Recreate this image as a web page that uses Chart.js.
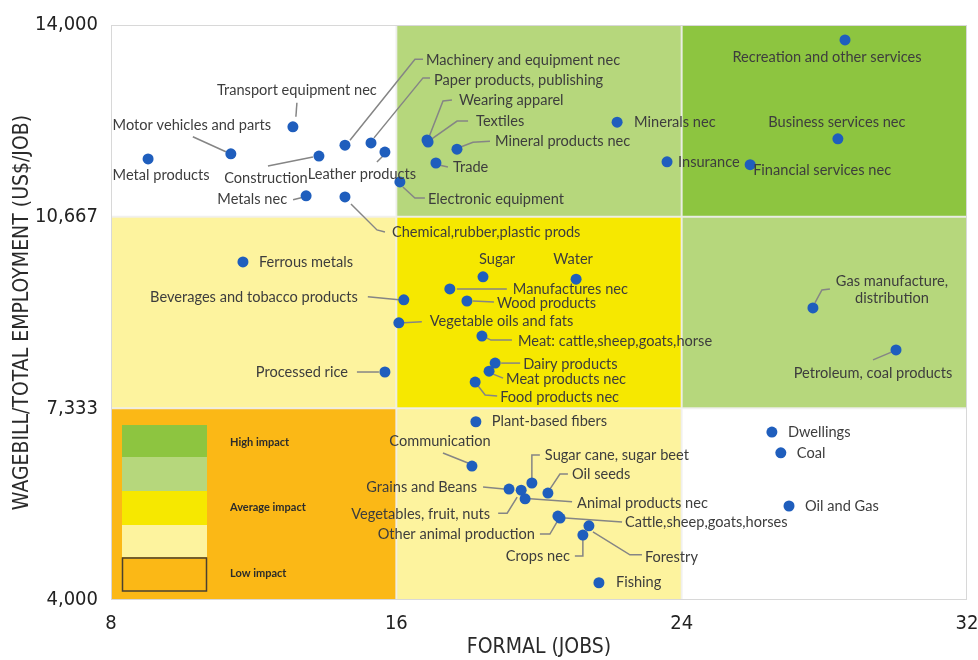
<!DOCTYPE html>
<html>
<head>
<meta charset="utf-8">
<script src="https://cdn.jsdelivr.net/npm/chart.js@4.4.1/dist/chart.umd.min.js"></script>
<style>
  html, body { margin: 0; padding: 0; background: #fff; }
</style>
</head>
<body>
<canvas id="impactChart" width="978" height="660"></canvas>
<script>
// sectors and their values
const sectors = [
  'Recreation and other services', 'Business services nec', 'Financial services nec', 'Insurance',
  'Minerals nec', 'Transport equipment nec', 'Motor vehicles and parts', 'Metal products',
  'Construction', 'Machinery and equipment nec', 'Paper products, publishing', 'Leather products',
  'Metals nec', 'Chemical,rubber,plastic prods', 'Electronic equipment', 'Wearing apparel',
  'Textiles', 'Mineral products nec', 'Trade', 'Ferrous metals',
  'Beverages and tobacco products', 'Vegetable oils and fats', 'Processed rice', 'Sugar',
  'Water', 'Manufactures nec', 'Wood products', 'Meat: cattle,sheep,goats,horse',
  'Dairy products', 'Meat products nec', 'Food products nec', 'Gas manufacture, distribution',
  'Petroleum, coal products', 'Plant-based fibers', 'Communication', 'Sugar cane, sugar beet',
  'Oil seeds', 'Grains and Beans', 'Vegetables, fruit, nuts', 'Animal products nec',
  'Cattle,sheep,goats,horses', 'Other animal production', 'Forestry', 'Crops nec',
  'Fishing', 'Dwellings', 'Coal', 'Oil and Gas'
];
const formalJobs = [
  28.58, 28.38, 25.92, 23.59,
  22.19, 13.10, 11.36, 9.04,
  13.83, 14.56, 15.29, 15.68,
  13.47, 14.56, 16.10, 16.86,
  16.89, 17.70, 17.11, 11.70,
  16.21, 16.07, 15.68, 18.43,
  21.04, 17.50, 17.98, 18.40,
  18.77, 18.60, 18.21, 27.68,
  30.01, 18.23, 18.12, 19.80,
  20.25, 19.16, 19.50, 19.61,
  20.59, 20.53, 21.40, 21.23,
  21.68, 26.53, 26.78, 27.01
];
const wagePerJob = [
  13740, 12020, 11570, 11620,
  12310, 12230, 11760, 11670,
  11720, 11910, 11950, 11790,
  11030, 11010, 11270, 12000,
  11965, 11840, 11600, 9880,
  9220, 8820, 7965, 9620,
  9580, 9410, 9200, 8590,
  8120, 7980, 7790, 9080,
  8350, 7100, 6330, 6035,
  5860, 5930, 5910, 5760,
  5425, 5460, 5290, 5130,
  4300, 6920, 6560, 5635
];
const xTicks = [8, 16, 24, 32];
const yTicks = [4000, 7333.33, 10666.67, 14000];
const impactLevels = ['High impact', 'Average impact', 'Low impact'];

// background cells, rows top -> bottom, columns left -> right
const cellColours = [
  ['#ffffff', '#b6d77c', '#8dc540'],
  ['#fdf39e', '#f6e800', '#b6d77c'],
  ['#fbb816', '#fdf39e', '#ffffff']
];
const legendSwatches = ['#8dc540', '#b6d77c', '#f6e800', '#fdf39e', '#fbb816'];

// label placement: text offset from its point (px), alignment, leader line points relative to the point
const labelLayout = {
  'Recreation and other services': { dx: -18, dy: 17, align: 'center' },
  'Business services nec': { dx: -1, dy: -17, align: 'center' },
  'Financial services nec': { dx: 3, dy: 6 },
  'Insurance': { dx: 11, dy: 0 },
  'Minerals nec': { dx: 17, dy: 0 },
  'Transport equipment nec': { dx: 4, dy: -36, align: 'center', lead: [[4, -24], [3, -10]] },
  'Motor vehicles and parts': { dx: -39, dy: -29, align: 'center', lead: [[-38, -17], [-5, -2]] },
  'Metal products': { dx: 13, dy: 16, align: 'center' },
  'Construction': { dx: -53, dy: 22, align: 'center', lead: [[-51, 10], [-6, 1]] },
  'Machinery and equipment nec': { dx: 81, dy: -85, lead: [[5, -5], [70, -86], [78, -86]] },
  'Paper products, publishing': { dx: 63, dy: -63, lead: [[3, -5], [52, -65], [59, -65]] },
  'Leather products': { dx: -23, dy: 22, align: 'center', lead: [[-8, 10], [0, 2]] },
  'Metals nec': { dx: -19, dy: 4, align: 'right', lead: [[-13, 4], [-5, 2]] },
  'Chemical,rubber,plastic prods': { dx: 47, dy: 35, lead: [[6, 7], [32, 33], [40, 35]] },
  'Electronic equipment': { dx: 28, dy: 17, lead: [[3, 5], [15, 16], [25, 16]] },
  'Wearing apparel': { dx: 32, dy: -40, lead: [[2, -3], [16, -39], [25, -40]] },
  'Textiles': { dx: 48, dy: -21, lead: [[2, -2], [29, -21], [40, -21]] },
  'Mineral products nec': { dx: 38, dy: -8, lead: [[3, -2], [16, -7], [33, -8]] },
  'Trade': { dx: 17, dy: 4, lead: [[3, 2], [12, 4]] },
  'Ferrous metals': { dx: 16, dy: 0 },
  'Beverages and tobacco products': { dx: -46, dy: -3, align: 'right', lead: [[-36, -3], [-5, 0]] },
  'Vegetable oils and fats': { dx: 31, dy: -2, lead: [[5, 0], [23, -1]] },
  'Processed rice': { dx: -37, dy: 0, align: 'right', lead: [[-28, 0], [-6, 0]] },
  'Sugar': { dx: 14, dy: -18, align: 'center' },
  'Water': { dx: -3, dy: -20, align: 'center' },
  'Manufactures nec': { dx: 63, dy: 0, lead: [[7, 0], [57, 0]] },
  'Wood products': { dx: 30, dy: 2, lead: [[6, 0], [27, 1]] },
  'Meat: cattle,sheep,goats,horse': { dx: 36, dy: 5, lead: [[5, 2], [9, 4], [30, 4]] },
  'Dairy products': { dx: 28, dy: 1, lead: [[6, 0], [25, 0]] },
  'Meat products nec': { dx: 17, dy: 8, lead: [[4, 3], [14, 7]] },
  'Food products nec': { dx: 25, dy: 15, lead: [[3, 4], [10, 13], [22, 14]] },
  'Gas manufacture, distribution': { dx: 79, dy: -27, align: 'center', lines: ['Gas manufacture,', 'distribution'], lead: [[2, -5], [9, -18], [17, -19]] },
  'Petroleum, coal products': { dx: -23, dy: 23, align: 'center', lead: [[-23, 10], [-4, 2]] },
  'Plant-based fibers': { dx: 16, dy: 0 },
  'Communication': { dx: -32, dy: -25, align: 'center', lead: [[-29, -13], [-4, -3]] },
  'Sugar cane, sugar beet': { dx: 13, dy: -28, lead: [[0, -5], [0, -28], [8, -28]] },
  'Oil seeds': { dx: 24, dy: -19, lead: [[2, -4], [12, -19], [20, -19]] },
  'Grains and Beans': { dx: -32, dy: -2, align: 'right', lead: [[-26, -2], [-5, 0]] },
  'Vegetables, fruit, nuts': { dx: -31, dy: 24, align: 'right', lead: [[-23, 23], [-14, 23], [-4, 7]] },
  'Animal products nec': { dx: 52, dy: 4, lead: [[5, 0], [47, 3]] },
  'Cattle,sheep,goats,horses': { dx: 65, dy: 4, lead: [[5, 0], [62, 4]] },
  'Other animal production': { dx: -23, dy: 18, align: 'right', lead: [[-18, 18], [-8, 18], [-1, 6]] },
  'Forestry': { dx: 56, dy: 31, lead: [[4, 6], [41, 29], [53, 29]] },
  'Crops nec': { dx: -13, dy: 21, align: 'right', lead: [[-8, 21], [0, 21], [0, 4]] },
  'Fishing': { dx: 17, dy: 0 },
  'Dwellings': { dx: 16, dy: 0 },
  'Coal': { dx: 16, dy: 0 },
  'Oil and Gas': { dx: 16, dy: 0 }
};

const axisFont = '"Liberation Sans Narrow", "DejaVu Sans Condensed", sans-serif';
const labelFont = 'Lato, "Open Sans", sans-serif';

const points = sectors.map((name, i) => ({ x: formalJobs[i], y: wagePerJob[i], name }));

const quadrantPlugin = {
  id: 'quadrants',
  beforeDatasetsDraw(chart) {
    const { ctx, chartArea: area, scales: { x, y } } = chart;
    ctx.save();
    // coloured cells
    for (let r = 0; r < 3; r++) {
      for (let c = 0; c < 3; c++) {
        const x0 = x.getPixelForValue(xTicks[c]);
        const x1 = x.getPixelForValue(xTicks[c + 1]);
        const y0 = y.getPixelForValue(yTicks[3 - r]);
        const y1 = y.getPixelForValue(yTicks[2 - r]);
        ctx.fillStyle = cellColours[r][c];
        ctx.fillRect(x0, y0, x1 - x0, y1 - y0);
      }
    }
    // thin light separators between cells
    ctx.strokeStyle = 'rgba(240,240,240,0.9)';
    ctx.lineWidth = 2;
    ctx.beginPath();
    [xTicks[1], xTicks[2]].forEach(v => {
      const px = x.getPixelForValue(v);
      ctx.moveTo(px, area.top); ctx.lineTo(px, area.bottom);
    });
    [yTicks[1], yTicks[2]].forEach(v => {
      const py = y.getPixelForValue(v);
      ctx.moveTo(area.left, py); ctx.lineTo(area.right, py);
    });
    ctx.stroke();
    ctx.strokeStyle = '#d8d8d8';
    ctx.lineWidth = 1;
    ctx.strokeRect(area.left + 0.5, area.top + 0.5, area.right - area.left - 1, area.bottom - area.top - 1);

    // inset legend in the low-impact cell
    const lx = area.left + 11, ly = area.top + 400, lw = 85;
    const heights = [32, 34, 34, 32, 34];
    let yy = ly;
    legendSwatches.forEach((col, i) => {
      ctx.fillStyle = col;
      ctx.fillRect(lx, yy, lw, heights[i]);
      if (i === legendSwatches.length - 1) {
        ctx.strokeStyle = '#4a4030';
        ctx.lineWidth = 1.5;
        ctx.strokeRect(lx + 0.5, yy + 1, lw - 1, heights[i] - 1);
      }
      yy += heights[i];
    });
    ctx.fillStyle = '#2b2b2b';
    ctx.font = 'bold 11px ' + labelFont;
    ctx.textAlign = 'left';
    ctx.textBaseline = 'middle';
    ctx.fillText(impactLevels[0], lx + 108, ly + 17);
    ctx.fillText(impactLevels[1], lx + 108, ly + 82);
    ctx.fillText(impactLevels[2], lx + 108, ly + 148);

    // leader lines, drawn under the points
    const meta = chart.getDatasetMeta(0);
    ctx.strokeStyle = '#858585';
    ctx.lineWidth = 1.5;
    meta.data.forEach((el, i) => {
      const lay = labelLayout[sectors[i]];
      if (!lay || !lay.lead) return;
      ctx.beginPath();
      lay.lead.forEach(([dx, dy], k) => {
        if (k === 0) ctx.moveTo(el.x + dx, el.y + dy);
        else ctx.lineTo(el.x + dx, el.y + dy);
      });
      ctx.stroke();
    });
    ctx.restore();
  },
  afterDatasetsDraw(chart) {
    const { ctx } = chart;
    const meta = chart.getDatasetMeta(0);
    ctx.save();
    ctx.font = '14.6px ' + labelFont;
    ctx.fillStyle = '#3d3d3d';
    ctx.textBaseline = 'middle';
    meta.data.forEach((el, i) => {
      const lay = labelLayout[sectors[i]] || { dx: 10, dy: 0 };
      ctx.textAlign = lay.align || 'left';
      const lines = lay.lines || [sectors[i]];
      lines.forEach((t, k) => ctx.fillText(t, el.x + lay.dx, el.y + lay.dy + k * 17));
    });
    ctx.restore();
  }
};

new Chart(document.getElementById('impactChart').getContext('2d'), {
  type: 'scatter',
  data: {
    datasets: [{
      label: 'Sectors',
      data: points,
      backgroundColor: '#1f5ebd',
      borderWidth: 0,
      pointRadius: 5.5,
      pointHoverRadius: 5.5
    }]
  },
  options: {
    responsive: false,
    animation: false,
    devicePixelRatio: 1,
    layout: { padding: { left: 10, right: 0, top: 25, bottom: 0 } },
    plugins: {
      legend: { display: false },
      tooltip: { enabled: false }
    },
    scales: {
      x: {
        type: 'linear',
        min: 8,
        max: 32,
        afterBuildTicks: scale => { scale.ticks = xTicks.map(v => ({ value: v })); },
        afterFit: scale => { scale.height = 60; scale.paddingRight = 11; },
        grid: { display: false, drawTicks: false },
        border: { display: false },
        ticks: { padding: 12, color: '#222', font: { family: axisFont, size: 20 } },
        title: { display: true, text: 'FORMAL (JOBS)', color: '#2a2a2a', padding: 0, font: { family: axisFont, size: 21 } }
      },
      y: {
        type: 'linear',
        min: 4000,
        max: 14000,
        afterBuildTicks: scale => { scale.ticks = yTicks.map(v => ({ value: v })); },
        afterFit: scale => { scale.width = 101; },
        grid: { display: false, drawTicks: false },
        border: { display: false },
        ticks: {
          padding: 13,
          color: '#222',
          font: { family: axisFont, size: 20 },
          callback: v => Math.round(v).toLocaleString('en-US')
        },
        title: { display: true, text: 'WAGEBILL/TOTAL EMPLOYMENT (US$/JOB)', color: '#2a2a2a', padding: 0, font: { family: axisFont, size: 21 } }
      }
    }
  },
  plugins: [quadrantPlugin]
});
</script>
</body>
</html>
